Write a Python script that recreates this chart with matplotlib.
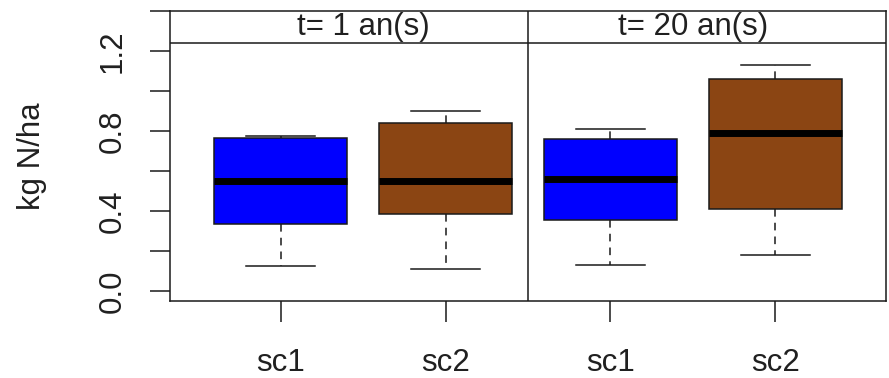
import matplotlib.pyplot as plt
import numpy as np

plt.rcParams['font.family'] = ['Liberation Sans', 'DejaVu Sans']

# strip titles and box categories
panels = ["t= 1 an(s)", "t= 20 an(s)"]
scenarios = ["sc1", "sc2", "sc1", "sc2"]
box_colors = ["#0000FF", "#8B4513", "#0000FF", "#8B4513"]

# five-number summaries, kg N/ha
whislo = [0.125, 0.11, 0.13, 0.18]
q1 = [0.335, 0.385, 0.357, 0.408]
med = [0.552, 0.552, 0.562, 0.789]
q3 = [0.765, 0.838, 0.76, 1.062]
whishi = [0.777, 0.902, 0.81, 1.13]

y_ticks = [0.0, 0.2, 0.4, 0.6, 0.8, 1.0, 1.2, 1.4]
y_labels = ["0.0", "", "0.4", "", "0.8", "", "1.2", ""]

LINE = "#1a1a1a"
TXT = "#202020"
FS = 22.5

fig = plt.figure(figsize=(8.89, 3.78), dpi=100)
ax = fig.add_axes([170 / 889, 77 / 378, 716 / 889, 290 / 378])

stats = []
for i in range(len(scenarios)):
    stats.append(dict(whislo=whislo[i], q1=q1[i], med=med[i], q3=q3[i],
                      whishi=whishi[i], fliers=[]))

pos = np.arange(1, len(scenarios) + 1)
bp = ax.bxp(stats, positions=pos, widths=0.81, capwidths=0.42,
            patch_artist=True, showfliers=False,
            boxprops=dict(edgecolor=LINE, linewidth=1.1),
            medianprops=dict(color="black", linewidth=5, solid_capstyle="butt"),
            whiskerprops=dict(color=LINE, linewidth=1.1, linestyle=(0, (5, 4))),
            capprops=dict(color=LINE, linewidth=1.1))
for patch, c in zip(bp["boxes"], box_colors):
    patch.set_facecolor(c)

ax.set_xlim(0.33, 4.67)
ax.set_ylim(-0.05, 1.4)

# strip header and panel divider
strip_low = 1.24
ax.axhline(strip_low, color=LINE, lw=1.1)
ax.axvline(2.5, color=LINE, lw=1.1)
for j, title in enumerate(panels):
    ax.text(1.5 + 2 * j, (strip_low + 1.4) / 2, title, ha="center",
            va="center", fontsize=FS, color=TXT)

for s in ax.spines.values():
    s.set_color(LINE)
    s.set_linewidth(1.1)

ax.set_yticks(y_ticks)
ax.set_yticklabels(y_labels, rotation=90, va="center")
ax.set_xticks(pos)
ax.set_xticklabels(scenarios)
ax.tick_params(axis="y", length=14.4, width=1.1, color=LINE, pad=16,
               labelsize=FS, labelcolor=TXT)
ax.tick_params(axis="x", length=15, width=1.1, color=LINE, pad=19,
               labelsize=FS, labelcolor=TXT)

fig.text(32 / 889, 1 - 156 / 378, "kg N/ha", rotation=90, ha="center",
         va="center", fontsize=FS, color=TXT)

fig.savefig("out.png", dpi=100)
